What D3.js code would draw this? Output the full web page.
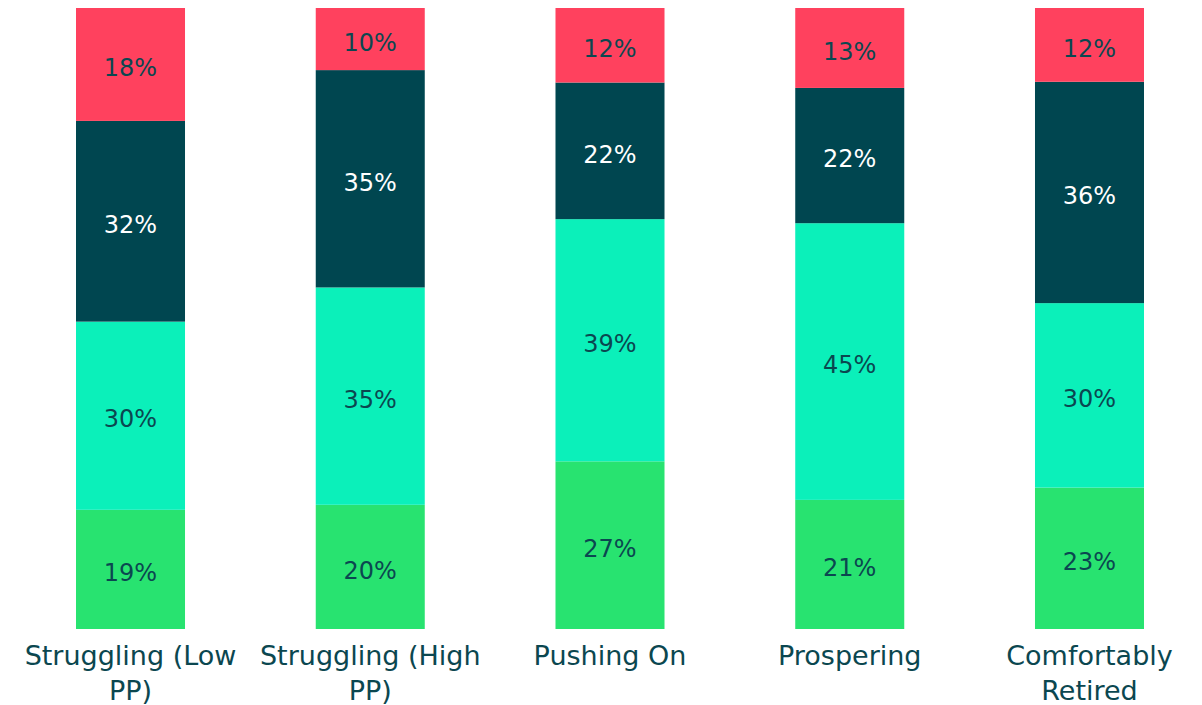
<!DOCTYPE html>
<html>
<head>
<meta charset="utf-8">
<script src="https://cdn.jsdelivr.net/npm/d3@7"></script>
<style>
  html, body { margin: 0; padding: 0; background: #ffffff; }
  svg { display: block; }
  text { font-family: "DejaVu Sans", "Noto Sans", sans-serif; }
</style>
</head>
<body>
<svg id="chart" width="1202" height="705"></svg>
<script>
// Segment categories, bottom to top
const categories = ["Struggling (Low PP)", "Struggling (High PP)", "Pushing On", "Prospering", "Comfortably Retired"];
const tickLines = [["Struggling (Low", "PP)"], ["Struggling (High", "PP)"], ["Pushing On"], ["Prospering"], ["Comfortably", "Retired"]];

// Series values (%), stacked bottom to top
const seriesA = [19, 20, 27, 21, 23];
const seriesB = [30, 35, 39, 45, 30];
const seriesC = [32, 35, 22, 22, 36];
const seriesD = [18, 10, 12, 13, 12];

const seriesKeys = ["a", "b", "c", "d"];
const colors = { a: "#28e370", b: "#0bf0ba", c: "#004650", d: "#ff415e" };
const labelColors = { a: "#0b4750", b: "#0b4750", c: "#ffffff", d: "#0b4750" };

const rows = categories.map((cat, i) => ({
  cat, a: seriesA[i], b: seriesB[i], c: seriesC[i], d: seriesD[i]
}));

const svg = d3.select("#chart");

const x = d3.scaleBand()
  .domain(categories)
  .range([76, 1144])
  .paddingInner(0.5453)
  .paddingOuter(0);

const y = d3.scaleLinear().domain([0, 1]).range([629, 8]);

// Each bar is shown as its share of the whole
const stacked = d3.stack().keys(seriesKeys).offset(d3.stackOffsetExpand)(rows);

const layers = svg.append("g").selectAll("g")
  .data(stacked)
  .join("g")
  .attr("fill", d => colors[d.key]);

layers.selectAll("rect")
  .data(d => d)
  .join("rect")
  .attr("x", d => x(d.data.cat))
  .attr("y", d => y(d[1]))
  .attr("width", x.bandwidth())
  .attr("height", d => y(d[0]) - y(d[1]));

const labels = svg.append("g").selectAll("g")
  .data(stacked)
  .join("g")
  .attr("fill", d => labelColors[d.key]);

labels.selectAll("text")
  .data(d => d.map(s => ({ s, key: d.key })))
  .join("text")
  .attr("x", d => x(d.s.data.cat) + x.bandwidth() / 2)
  .attr("y", d => (y(d.s[0]) + y(d.s[1])) / 2)
  .attr("dy", "0.49em")
  .attr("text-anchor", "middle")
  .attr("font-size", 24)
  .text(d => d.s.data[d.key] + "%");

// Category axis with wrapped tick labels
const axis = svg.append("g")
  .attr("transform", "translate(0,629)")
  .call(d3.axisBottom(x).tickSize(0).tickFormat(""));
axis.select(".domain").remove();

axis.selectAll(".tick").each(function(d, i) {
  const t = d3.select(this).append("text")
    .attr("fill", "#0b4750")
    .attr("font-size", 27)
    .attr("text-anchor", "middle");
  tickLines[i].forEach((line, j) => {
    t.append("tspan").attr("x", 0).attr("y", 36 + j * 35).text(line);
  });
});
</script>
</body>
</html>
